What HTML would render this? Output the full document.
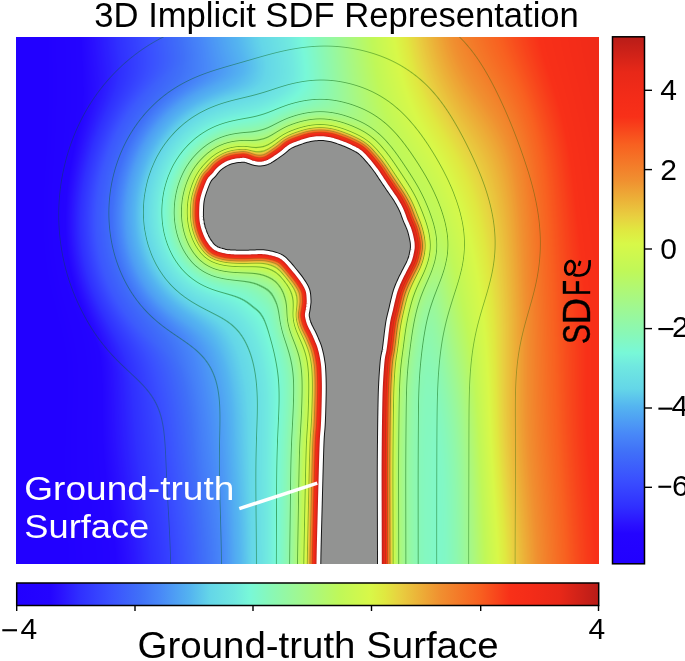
<!DOCTYPE html>
<html><head><meta charset="utf-8">
<style>
html,body{margin:0;padding:0;background:#fff;width:685px;height:661px;overflow:hidden;}
#wrap{position:relative;width:685px;height:661px;}
#hm{position:absolute;left:16px;top:37px;width:583px;height:527px;}
#ov{position:absolute;left:0;top:0;}
text{font-family:"Liberation Sans",sans-serif;}
</style></head><body><div id="wrap">
<svg id="fb" width="685" height="661" viewBox="0 0 685 661" style="position:absolute;left:0;top:0">
<defs><linearGradient id="fbg" x1="16" y1="0" x2="599" y2="0" gradientUnits="userSpaceOnUse">
<stop offset="0" stop-color="#2400f8"/><stop offset="0.18" stop-color="#2c30ff"/><stop offset="0.3" stop-color="#4a90f0"/><stop offset="0.42" stop-color="#78f0d0"/><stop offset="0.5" stop-color="#b0f870"/><stop offset="0.6" stop-color="#a8f890"/><stop offset="0.72" stop-color="#d8f048"/><stop offset="0.85" stop-color="#f08030"/><stop offset="1" stop-color="#f83018"/>
</linearGradient><clipPath id="fbc"><rect x="16" y="37" width="583" height="527"/></clipPath></defs>
<rect x="16" y="37" width="583" height="527" fill="url(#fbg)"/>
<g clip-path="url(#fbc)"><path d="M318.3,579.4 L318.3,575.8 L318.3,571.9 L318.3,567.7 L318.4,563 L318.5,559.7 L318.5,556.3 L318.6,552.8 L318.7,549.1 L318.8,545.3 L318.8,541.4 L318.9,537.4 L319,533.4 L319.2,529.4 L319.3,525.3 L319.4,521.2 L319.5,517.1 L319.6,513 L319.7,509 L319.8,505 L319.9,501.1 L320,497.1 L320.1,492.9 L320.2,488.7 L320.3,484.4 L320.5,480.1 L320.6,475.8 L320.7,471.6 L320.8,467.4 L320.9,463.4 L321,459.6 L321.1,455.9 L321.2,452.4 L321.4,449.2 L321.5,446.3 L321.6,441.7 L321.8,438.9 L322,434.8 L322.3,431.8 L322.6,428.1 L322.8,425 L323,421.4 L323.1,417.7 L323.2,414.1 L323.4,410.5 L323.5,406.8 L323.5,403.2 L323.6,399.5 L323.7,395.7 L323.8,392.1 L323.8,388.5 L323.8,385 L323.7,380.8 L323.6,376.7 L323.5,372.9 L323.3,369.5 L323,365.8 L322.6,362.6 L322.2,360 L321.6,356.6 L320.9,353.3 L320.1,350 L319.2,346.7 L317.9,343.3 L316.5,340 L315.1,336.7 L313.6,333.3 L311.9,330 L310.2,326.7 L308.7,323.3 L307.7,320 L306.9,316.7 L306.9,313.3 L307.6,310 L308.1,306.7 L308.5,303.5 L308.6,300 L308.4,297 L308.1,293.5 L307.3,290 L305.8,286.7 L303.9,283.3 L301.7,280 L299.6,277.1 L297.3,274.1 L295,271.3 L292.5,268.3 L289.9,265.2 L287.5,262.5 L284.8,259.7 L282,257.5 L278.8,255.8 L275,254.5 L271.9,253.7 L268.4,252.9 L265,252.4 L261.7,252.2 L258.3,252.2 L255,252.3 L251.7,252.4 L248.3,252.6 L245,252.7 L241.7,252.7 L238.3,252.6 L235,252.5 L231.7,252.3 L228.3,252 L225,251.5 L221.5,250.7 L218.1,249.6 L215,248 L212.4,245.7 L210.2,243 L208.2,240 L206.4,236.8 L205,233.4 L203.7,230 L202.7,226.7 L201.9,223.3 L201.4,220 L201.1,216.7 L201,213.3 L201.1,210 L201.2,206.7 L201.4,203.3 L201.9,200 L202.7,196.7 L203.7,193.3 L204.8,190 L206,186.7 L207.4,183.3 L209,180 L210.8,176.9 L212.9,173.7 L214.9,171 L217.2,168.8 L220,167.7 L222.9,166.2 L226.5,164.4 L230,163 L233.5,162.1 L237,161.5 L240,161.1 L243.3,160.8 L246.5,161.1 L250,161.9 L253.4,162.7 L257,163.4 L260.4,163.6 L263.9,163.2 L267.4,162.1 L270.1,160.7 L272.9,159 L275.7,157.1 L278.5,155.2 L281.3,153.2 L284.1,151 L286.9,148.5 L290,146.3 L293.1,144.8 L296.6,143.4 L300,142.2 L303.3,141 L306.7,140 L310,139.2 L313.3,138.6 L316.7,138.2 L320,138.1 L323.3,138.2 L326.7,138.5 L330,139.1 L333.3,139.9 L336.7,141 L340,142.2 L343.3,143.4 L346.7,144.8 L350,146.3 L353.4,147.9 L356.8,149.7 L360,151.8 L362.8,154.3 L365.4,157 L368,160 L370.3,162.7 L372.7,165.6 L374.9,168.6 L377,171.4 L379,174.3 L380.8,177.1 L382.7,180 L384.6,182.9 L386.6,185.7 L388.5,188.6 L390.5,191.4 L392.5,194.3 L394.5,197.1 L396.3,200 L398.3,203.3 L400.1,206.7 L401.7,210 L403.1,213.3 L404.3,216.7 L405.5,220 L406.9,223.3 L408.4,226.7 L409.7,230 L410.7,233.5 L411.6,237 L412.2,240 L412.7,243.5 L412.8,246.5 L412.5,250 L411.9,253 L411.1,256.5 L410,260 L408.5,263.3 L406.8,266.7 L405.1,270 L403.4,273.3 L401.7,276.7 L400.1,280 L398.6,283.3 L397.2,286.7 L396,290 L395,293.3 L394.1,296.7 L393.3,300 L392.5,303.3 L391.8,306.7 L391,310 L390.2,313.3 L389.3,316.7 L388.6,320 L388,323.3 L387.5,326.7 L387.1,330 L386.7,333.3 L386.3,336.7 L385.9,340 L385.5,343.4 L385.1,346.8 L384.6,350 L384,353.2 L383.3,356.2 L382.8,359.5 L382.5,362.7 L382.2,366.2 L381.9,370 L381.7,373.5 L381.4,377.3 L381.2,381.2 L381,385 L380.8,388.4 L380.7,391.6 L380.6,395.2 L380.5,400 L380.4,403 L380.4,406.2 L380.3,409.7 L380.2,413.4 L380.2,417.4 L380.1,421.4 L380.1,425.7 L380,430 L380,433.4 L379.9,436.8 L379.9,440.4 L379.9,444.1 L379.8,447.8 L379.8,451.6 L379.8,455.6 L379.7,459.6 L379.7,463.7 L379.7,467.9 L379.7,471.7 L379.7,475.4 L379.7,479.1 L379.7,482.9 L379.7,486.8 L379.7,490.8 L379.7,494.8 L379.7,498.8 L379.7,502.7 L379.8,506.7 L379.8,510.6 L379.8,514.4 L379.8,518.2 L379.8,522 L379.8,526.1 L379.8,530.1 L379.8,534.1 L379.8,538 L379.9,541.9 L379.9,545.7 L379.9,549.5 L379.9,553.2 L379.9,556.9 L379.9,560.5 L379.9,564 L379.9,568.3 L379.9,572.3 L379.9,576.1 L379.9,579.8 L379.9,579.8 Z" fill="#929392" stroke="#f03018" stroke-width="14"/><path d="M318.3,579.4 L318.3,575.8 L318.3,571.9 L318.3,567.7 L318.4,563 L318.5,559.7 L318.5,556.3 L318.6,552.8 L318.7,549.1 L318.8,545.3 L318.8,541.4 L318.9,537.4 L319,533.4 L319.2,529.4 L319.3,525.3 L319.4,521.2 L319.5,517.1 L319.6,513 L319.7,509 L319.8,505 L319.9,501.1 L320,497.1 L320.1,492.9 L320.2,488.7 L320.3,484.4 L320.5,480.1 L320.6,475.8 L320.7,471.6 L320.8,467.4 L320.9,463.4 L321,459.6 L321.1,455.9 L321.2,452.4 L321.4,449.2 L321.5,446.3 L321.6,441.7 L321.8,438.9 L322,434.8 L322.3,431.8 L322.6,428.1 L322.8,425 L323,421.4 L323.1,417.7 L323.2,414.1 L323.4,410.5 L323.5,406.8 L323.5,403.2 L323.6,399.5 L323.7,395.7 L323.8,392.1 L323.8,388.5 L323.8,385 L323.7,380.8 L323.6,376.7 L323.5,372.9 L323.3,369.5 L323,365.8 L322.6,362.6 L322.2,360 L321.6,356.6 L320.9,353.3 L320.1,350 L319.2,346.7 L317.9,343.3 L316.5,340 L315.1,336.7 L313.6,333.3 L311.9,330 L310.2,326.7 L308.7,323.3 L307.7,320 L306.9,316.7 L306.9,313.3 L307.6,310 L308.1,306.7 L308.5,303.5 L308.6,300 L308.4,297 L308.1,293.5 L307.3,290 L305.8,286.7 L303.9,283.3 L301.7,280 L299.6,277.1 L297.3,274.1 L295,271.3 L292.5,268.3 L289.9,265.2 L287.5,262.5 L284.8,259.7 L282,257.5 L278.8,255.8 L275,254.5 L271.9,253.7 L268.4,252.9 L265,252.4 L261.7,252.2 L258.3,252.2 L255,252.3 L251.7,252.4 L248.3,252.6 L245,252.7 L241.7,252.7 L238.3,252.6 L235,252.5 L231.7,252.3 L228.3,252 L225,251.5 L221.5,250.7 L218.1,249.6 L215,248 L212.4,245.7 L210.2,243 L208.2,240 L206.4,236.8 L205,233.4 L203.7,230 L202.7,226.7 L201.9,223.3 L201.4,220 L201.1,216.7 L201,213.3 L201.1,210 L201.2,206.7 L201.4,203.3 L201.9,200 L202.7,196.7 L203.7,193.3 L204.8,190 L206,186.7 L207.4,183.3 L209,180 L210.8,176.9 L212.9,173.7 L214.9,171 L217.2,168.8 L220,167.7 L222.9,166.2 L226.5,164.4 L230,163 L233.5,162.1 L237,161.5 L240,161.1 L243.3,160.8 L246.5,161.1 L250,161.9 L253.4,162.7 L257,163.4 L260.4,163.6 L263.9,163.2 L267.4,162.1 L270.1,160.7 L272.9,159 L275.7,157.1 L278.5,155.2 L281.3,153.2 L284.1,151 L286.9,148.5 L290,146.3 L293.1,144.8 L296.6,143.4 L300,142.2 L303.3,141 L306.7,140 L310,139.2 L313.3,138.6 L316.7,138.2 L320,138.1 L323.3,138.2 L326.7,138.5 L330,139.1 L333.3,139.9 L336.7,141 L340,142.2 L343.3,143.4 L346.7,144.8 L350,146.3 L353.4,147.9 L356.8,149.7 L360,151.8 L362.8,154.3 L365.4,157 L368,160 L370.3,162.7 L372.7,165.6 L374.9,168.6 L377,171.4 L379,174.3 L380.8,177.1 L382.7,180 L384.6,182.9 L386.6,185.7 L388.5,188.6 L390.5,191.4 L392.5,194.3 L394.5,197.1 L396.3,200 L398.3,203.3 L400.1,206.7 L401.7,210 L403.1,213.3 L404.3,216.7 L405.5,220 L406.9,223.3 L408.4,226.7 L409.7,230 L410.7,233.5 L411.6,237 L412.2,240 L412.7,243.5 L412.8,246.5 L412.5,250 L411.9,253 L411.1,256.5 L410,260 L408.5,263.3 L406.8,266.7 L405.1,270 L403.4,273.3 L401.7,276.7 L400.1,280 L398.6,283.3 L397.2,286.7 L396,290 L395,293.3 L394.1,296.7 L393.3,300 L392.5,303.3 L391.8,306.7 L391,310 L390.2,313.3 L389.3,316.7 L388.6,320 L388,323.3 L387.5,326.7 L387.1,330 L386.7,333.3 L386.3,336.7 L385.9,340 L385.5,343.4 L385.1,346.8 L384.6,350 L384,353.2 L383.3,356.2 L382.8,359.5 L382.5,362.7 L382.2,366.2 L381.9,370 L381.7,373.5 L381.4,377.3 L381.2,381.2 L381,385 L380.8,388.4 L380.7,391.6 L380.6,395.2 L380.5,400 L380.4,403 L380.4,406.2 L380.3,409.7 L380.2,413.4 L380.2,417.4 L380.1,421.4 L380.1,425.7 L380,430 L380,433.4 L379.9,436.8 L379.9,440.4 L379.9,444.1 L379.8,447.8 L379.8,451.6 L379.8,455.6 L379.7,459.6 L379.7,463.7 L379.7,467.9 L379.7,471.7 L379.7,475.4 L379.7,479.1 L379.7,482.9 L379.7,486.8 L379.7,490.8 L379.7,494.8 L379.7,498.8 L379.7,502.7 L379.8,506.7 L379.8,510.6 L379.8,514.4 L379.8,518.2 L379.8,522 L379.8,526.1 L379.8,530.1 L379.8,534.1 L379.8,538 L379.9,541.9 L379.9,545.7 L379.9,549.5 L379.9,553.2 L379.9,556.9 L379.9,560.5 L379.9,564 L379.9,568.3 L379.9,572.3 L379.9,576.1 L379.9,579.8 L379.9,579.8 Z" fill="#929392" stroke="#fff" stroke-width="3.8"/></g>
</svg>
<canvas id="hm" width="583" height="527"></canvas>
<svg id="ov" width="685" height="661" viewBox="0 0 685 661">
<defs>
<linearGradient id="cmh" x1="0" y1="0" x2="1" y2="0">
<stop offset="0" stop-color="#2200ff"/>
<stop offset="0.057" stop-color="#2404ff"/>
<stop offset="0.074" stop-color="#2a10ff"/>
<stop offset="0.109" stop-color="#3030ff"/>
<stop offset="0.16" stop-color="#3a50ff"/>
<stop offset="0.212" stop-color="#4070f8"/>
<stop offset="0.246" stop-color="#4888f8"/>
<stop offset="0.298" stop-color="#54b4f0"/>
<stop offset="0.332" stop-color="#64d6e8"/>
<stop offset="0.375" stop-color="#70e8e0"/>
<stop offset="0.4" stop-color="#78f8d8"/>
<stop offset="0.435" stop-color="#88f8b8"/>
<stop offset="0.487" stop-color="#a0f890"/>
<stop offset="0.556" stop-color="#c0f858"/>
<stop offset="0.607" stop-color="#d8f848"/>
<stop offset="0.633" stop-color="#e0e840"/>
<stop offset="0.658" stop-color="#e8d040"/>
<stop offset="0.727" stop-color="#f09030"/>
<stop offset="0.796" stop-color="#f86020"/>
<stop offset="0.848" stop-color="#f83018"/>
<stop offset="0.882" stop-color="#f42c18"/>
<stop offset="0.933" stop-color="#e82818"/>
<stop offset="1" stop-color="#b81c18"/>
</linearGradient>
<linearGradient id="cmv" x1="0" y1="1" x2="0" y2="0">
<stop offset="0" stop-color="#2200ff"/>
<stop offset="0.057" stop-color="#2404ff"/>
<stop offset="0.074" stop-color="#2a10ff"/>
<stop offset="0.109" stop-color="#3030ff"/>
<stop offset="0.16" stop-color="#3a50ff"/>
<stop offset="0.212" stop-color="#4070f8"/>
<stop offset="0.246" stop-color="#4888f8"/>
<stop offset="0.298" stop-color="#54b4f0"/>
<stop offset="0.332" stop-color="#64d6e8"/>
<stop offset="0.375" stop-color="#70e8e0"/>
<stop offset="0.4" stop-color="#78f8d8"/>
<stop offset="0.435" stop-color="#88f8b8"/>
<stop offset="0.487" stop-color="#a0f890"/>
<stop offset="0.556" stop-color="#c0f858"/>
<stop offset="0.607" stop-color="#d8f848"/>
<stop offset="0.633" stop-color="#e0e840"/>
<stop offset="0.658" stop-color="#e8d040"/>
<stop offset="0.727" stop-color="#f09030"/>
<stop offset="0.796" stop-color="#f86020"/>
<stop offset="0.848" stop-color="#f83018"/>
<stop offset="0.882" stop-color="#f42c18"/>
<stop offset="0.933" stop-color="#e82818"/>
<stop offset="1" stop-color="#b81c18"/>
</linearGradient>
</defs>
<!-- in-plot label -->
<g fill="#fff" font-size="33.4">
<text x="24.3" y="500.4" textLength="210" lengthAdjust="spacingAndGlyphs">Ground-truth</text>
<text x="24.3" y="538.1" textLength="125" lengthAdjust="spacingAndGlyphs">Surface</text>
</g>
<line x1="239.3" y1="508.6" x2="317.3" y2="483.2" stroke="#fff" stroke-width="3.5"/>
<!-- rotated SDF label -->
<g font-size="37.94" fill="#000" stroke="#000" stroke-width="0.4">
<text transform="translate(590.4,344.06) rotate(-90) scale(0.7875,1)">S</text>
<text transform="translate(590.4,324.18) rotate(-90) scale(0.957,1)">D</text>
<text transform="translate(590.4,295.7) rotate(-90) scale(0.6795,1)">F</text>
</g>
<g fill="none" stroke="#000" stroke-width="2.7" stroke-linecap="butt" transform="translate(0,0.8)">
<ellipse cx="570" cy="266.9" rx="4.7" ry="6.75" transform="rotate(10 570 266.9)"/>
<path d="M573.5,273.6 C577,275.2 582.5,275.3 586,272.5 C589,270 590,266 589.6,259.4"/>
<path d="M580.3,260.2 L578.7,265" stroke-width="2.5"/>
</g>
<!-- title -->
<text x="94.3" y="26.6" font-size="34.5" textLength="484.5" lengthAdjust="spacingAndGlyphs" fill="#000">3D Implicit SDF Representation</text>
<!-- vertical colorbar -->
<rect x="612.5" y="36.8" width="32" height="527" fill="url(#cmv)" stroke="#000" stroke-width="1.5"/>
<g stroke="#000" stroke-width="1.4">
<line x1="645" y1="90.3" x2="652" y2="90.3"/>
<line x1="645" y1="169.6" x2="652" y2="169.6"/>
<line x1="645" y1="249" x2="652" y2="249"/>
<line x1="645" y1="328.6" x2="652" y2="328.6"/>
<line x1="645" y1="408" x2="652" y2="408"/>
<line x1="645" y1="487.3" x2="652" y2="487.3"/>
</g>
<g font-size="30" fill="#000">
<text x="660.2" y="99.9">4</text>
<text x="660.2" y="179.9">2</text>
<text x="660.2" y="258.9">0</text>
<text x="672" y="336.6">2</text>
<text x="671.6" y="415.6">4</text>
<text x="672" y="495.9">6</text>
</g>
<g fill="#000">
<rect x="658.4" y="328" width="15" height="2.1"/>
<rect x="658.4" y="407.6" width="14" height="2.1"/>
<rect x="658.4" y="485.7" width="12.8" height="2.1"/>
<rect x="2.3" y="629.2" width="14.7" height="2.1"/>
</g>
<!-- horizontal colorbar -->
<rect x="16.7" y="583" width="582" height="22.5" fill="url(#cmh)" stroke="#000" stroke-width="1.5"/>
<g stroke="#000" stroke-width="1.4">
<line x1="16.7" y1="605" x2="16.7" y2="611"/>
<line x1="135" y1="605" x2="135" y2="611"/>
<line x1="253" y1="605" x2="253" y2="611"/>
<line x1="371.5" y1="605" x2="371.5" y2="611"/>
<line x1="480.7" y1="605" x2="480.7" y2="611"/>
<line x1="598.5" y1="605" x2="598.5" y2="611"/>
</g>
<g font-size="30" fill="#000">
<text x="20.6" y="638.8">4</text>
<text x="588.4" y="638.5">4</text>
</g>
<text x="137.6" y="657.6" font-size="36.5" textLength="361" lengthAdjust="spacingAndGlyphs" fill="#000">Ground-truth Surface</text>
</svg>
</div>
<script>
(function(){
var W=583,H=527,OX=16,OY=37;
var cv=document.getElementById('hm');var ctx=cv.getContext('2d');
var CM=[[0,34,0,255],[0.057,36,4,255],[0.074,42,16,255],[0.109,48,48,255],[0.16,58,80,255],[0.212,64,112,248],[0.246,72,136,248],[0.298,84,180,240],[0.332,100,214,232],[0.375,112,232,224],[0.4,120,248,216],[0.435,136,248,184],[0.487,160,248,144],[0.556,192,248,88],[0.607,216,248,72],[0.633,224,232,64],[0.658,232,208,64],[0.727,240,144,48],[0.796,248,96,32],[0.848,248,48,24],[0.882,244,44,24],[0.933,232,40,24],[1,184,28,24]];
var LUT=new Uint8Array(1024*3);
for(var i=0;i<1024;i++){var t=i/1023;var k=0;while(k<CM.length-2&&t>CM[k+1][0])k++;var a=CM[k],b=CM[k+1];var f=(t-a[0])/(b[0]-a[0]);if(f<0)f=0;if(f>1)f=1;
for(var c=0;c<3;c++)LUT[i*3+c]=Math.round(a[c+1]+(b[c+1]-a[c+1])*f);}
var P=[[318.4,1000],[318.4,950],[318.4,900],[318.4,850],[318.4,800],[318.4,750],[318.4,700],[318.4,650],[318.4,600],[318.4,563],[319.8,505],[321.5,445],[322.8,425],[323.5,405],[323.8,385],[323.2,368],[322.2,360],[321.3,355],[320.1,350],[318.6,345],[316.5,340],[314.4,335],[311.9,330],[309.4,325],[307.7,320],[306.8,315],[307.6,310],[308.3,305],[308.6,300],[307.3,290],[301.7,280],[293.9,270],[287.5,262.5],[282,257.5],[275,254.5],[265,252.4],[255,252.3],[245,252.7],[235,252.5],[225,251.5],[215,248],[208.2,240],[203.7,230],[201.4,220],[201.1,210],[201.9,200],[204.8,190],[209,180],[213.5,175],[218,169.5],[222.5,165.8],[228.4,162.5],[234.2,160.8],[240,160],[245,159.9],[253.4,162.7],[260.4,163.6],[267.4,162.1],[274.4,158],[282.6,152.2],[290,146.3],[300,142.2],[310,139.2],[320,138.1],[330,139.1],[340,142.2],[350,146.3],[360,151.8],[368,160],[376,170],[382.7,180],[389.5,190],[396.3,200],[401.7,210],[405.5,220],[409.7,230],[412.2,240],[412.8,245],[412.5,250],[410,260],[405.1,270],[400.1,280],[396,290],[393.3,300],[391,310],[388.6,320],[387.1,330],[385.9,340],[384.6,350],[383,358],[381.9,370],[381,385],[380.5,400],[380,430],[379.7,470],[379.8,520],[379.9,564],[379.9,600],[379.9,650],[379.9,700],[379.9,750],[379.9,800],[379.9,850],[379.9,900],[379.9,950],[379.9,1000]];
var S=[];
for(var i=0;i<P.length-1;i++){var p0=P[Math.max(0,i-1)],p1=P[i],p2=P[i+1],p3=P[Math.min(P.length-1,i+2)];
 var n=Math.max(2,Math.ceil(Math.hypot(p2[0]-p1[0],p2[1]-p1[1])/2));
 for(var j=0;j<n;j++){var u=j/n,u2=u*u,u3=u2*u;
  var x=0.5*((2*p1[0])+(-p0[0]+p2[0])*u+(2*p0[0]-5*p1[0]+4*p2[0]-p3[0])*u2+(-p0[0]+3*p1[0]-3*p2[0]+p3[0])*u3);
  var y=0.5*((2*p1[1])+(-p0[1]+p2[1])*u+(2*p0[1]-5*p1[1]+4*p2[1]-p3[1])*u2+(-p0[1]+3*p1[1]-3*p2[1]+p3[1])*u3);
  S.push([x,y]);}}
S.push(P[P.length-1]);
var NS=S.length;
var sx=new Float64Array(NS),sy=new Float64Array(NS);
for(var i=0;i<NS;i++){sx[i]=S[i][0];sy[i]=S[i][1];}
function dseg(x,y,i){var ax=sx[i],ay=sy[i],bx=sx[i+1]-ax,by=sy[i+1]-ay;var px=x-ax,py=y-ay;var L=bx*bx+by*by;var t=(px*bx+py*by)/L;if(t<0)t=0;else if(t>1)t=1;var dx=px-t*bx,dy=py-t*by;return dx*dx+dy*dy;}
function dist(x,y){var m=1e18;for(var i=0;i<NS-1;i++){var d=dseg(x,y,i);if(d<m)m=d;}return Math.sqrt(m);}
// coarse grid with margin
var ST=4,MG=20,CW=Math.ceil(W/ST)+2+2*MG,CH=Math.ceil(H/ST)+2+2*MG;
var cd=new Float64Array(CW*CH),cs=new Float64Array(CW*CH),sd=new Float64Array(CW*CH);
function inside(x,y){var c=false;for(var i=0,j=NS-1;i<NS;j=i++){if(((sy[i]>y)!=(sy[j]>y))&&(x<(sx[j]-sx[i])*(y-sy[i])/(sy[j]-sy[i])+sx[i]))c=!c;}return c;}
for(var j=0;j<CH;j++)for(var i=0;i<CW;i++){var x=OX+(i-MG)*ST,y=OY+(j-MG)*ST;var d=dist(x,y);cd[j*CW+i]=d;sd[j*CW+i]=(d<70&&inside(x,y))?-d:d;}
// separable variable-sigma blur of signed distance
var KB=0.5,SGM=30;
var tmp=new Float64Array(CW*CH);
for(var j=0;j<CH;j++)for(var i=0;i<CW;i++){var o=j*CW+i;var d=sd[o];var sg=Math.min(KB*Math.max(d,0),SGM)/ST;if(sg<0.6){tmp[o]=d;continue;}var r=Math.ceil(2.2*sg);var s=0,ws=0;for(var k=-r;k<=r;k++){var ii=i+k;if(ii<0)ii=0;if(ii>=CW)ii=CW-1;var w=Math.exp(-k*k/(2*sg*sg));s+=w*sd[j*CW+ii];ws+=w;}tmp[o]=s/ws;}
for(var j=0;j<CH;j++)for(var i=0;i<CW;i++){var o=j*CW+i;var d=sd[o];var sg=Math.min(KB*Math.max(d,0),SGM)/ST;if(sg<0.6){cs[o]=tmp[o];continue;}var r=Math.ceil(2.2*sg);var s=0,ws=0;for(var k=-r;k<=r;k++){var jj=j+k;if(jj<0)jj=0;if(jj>=CH)jj=CH-1;var w=Math.exp(-k*k/(2*sg*sg));s+=w*tmp[jj*CW+i];ws+=w;}cs[o]=s/ws;}
// buckets for exact near-surface distance
var BS=16,BW=Math.ceil(W/BS)+1,BH=Math.ceil(H/BS)+1;var buckets=[];
for(var b=0;b<BW*BH;b++)buckets.push([]);
var RAD=30;
for(var i=0;i<NS-1;i++){var x0=Math.min(sx[i],sx[i+1])-RAD-OX,x1=Math.max(sx[i],sx[i+1])+RAD-OX,y0=Math.min(sy[i],sy[i+1])-RAD-OY,y1=Math.max(sy[i],sy[i+1])+RAD-OY;
 for(var by=Math.max(0,Math.floor(y0/BS));by<=Math.min(BH-1,Math.floor(y1/BS));by++)for(var bx=Math.max(0,Math.floor(x0/BS));bx<=Math.min(BW-1,Math.floor(x1/BS));bx++)buckets[by*BW+bx].push(i);}
function bil(A,fx,fy){var i=Math.floor(fx),j=Math.floor(fy);var ax=fx-i,ay=fy-j;var o=j*CW+i;return (A[o]*(1-ax)+A[o+1]*ax)*(1-ay)+(A[o+CW]*(1-ax)+A[o+CW+1]*ax)*ay;}
var TU=[[-2,1.0],[0.4055,1.000],[0.9163,0.960],[1.3083,0.920],[1.5686,0.870],[1.7750,0.820],[1.9459,0.770],[2.2192,0.680],[2.5096,0.600],[2.8332,0.550],[3.1570,0.490],[3.4965,0.430],[3.9120,0.370],[4.1744,0.320],[4.3820,0.270],[4.5433,0.210],[4.7005,0.170],[4.8675,0.090],[5.0106,0.020],[5.2983,-0.050],[6.4998,-0.400]];
function T(u){if(u<=TU[0][0])return TU[0][1];for(var i=0;i<TU.length-1;i++){if(u<=TU[i+1][0]){var a=TU[i],b=TU[i+1];return a[1]+(b[1]-a[1])*(u-a[0])/(b[0]-a[0]);}}return TU[TU.length-1][1];}
function cr(p0,p1,p2,p3,u){return 0.5*(2*p1+(-p0+p2)*u+(2*p0-5*p1+4*p2-p3)*u*u+(-p0+3*p1-3*p2+p3)*u*u*u);}
function mkgrid(V){var ny=V.length,nx=V[0].length,dx=W/(nx-1),dy=H/(ny-1);
 function gv(j,i){i=Math.max(0,Math.min(nx-1,i));j=Math.max(0,Math.min(ny-1,j));return V[j][i];}
 return function(x,y){var fx=(x-OX)/dx,fy=(y-OY)/dy;var i=Math.min(nx-2,Math.max(0,Math.floor(fx))),j=Math.min(ny-2,Math.max(0,Math.floor(fy)));var u=Math.max(0,Math.min(1,fx-i)),v=Math.max(0,Math.min(1,fy-j));
 var r=[];for(var k=-1;k<=2;k++){r.push(cr(gv(j+k,i-1),gv(j+k,i),gv(j+k,i+1),gv(j+k,i+2),u));}
 return cr(r[0],r[1],r[2],r[3],v);};}
var g=mkgrid([
[0,0,0,0,0,0,0,0.03,0.1,0.18,0.22,0.24,0.25],
[-0.04,-0.04,-0.04,-0.03,0,0,0,0.05,0.18,0.23,0.24,0.25,0.25],
[0.02,0.02,0.02,0.02,0.02,0.02,0.03,0.2,0.27,0.28,0.28,0.28,0.28],
[0.08,0.08,0.08,0.08,0.08,0.08,0.08,0.25,0.31,0.31,0.31,0.31,0.31],
[0.05,0.05,0.05,0.05,0.05,0.05,0.05,0.25,0.31,0.31,0.31,0.31,0.31]]);
var R=mkgrid([
[-0.05,0.03,0.1,0.18,0.26,0.33,0.41,0.52,0.63,0.73,0.8,0.86,0.9],
[-0.1,0.0,0.05,0.1,0.16,0.25,0.36,0.46,0.54,0.62,0.7,0.81,0.88],
[-0.12,-0.04,0.06,0.17,0.26,0.33,0.34,0.3,0.36,0.53,0.66,0.79,0.86],
[-0.05,0.0,0.07,0.15,0.24,0.31,0.32,0.3,0.31,0.45,0.65,0.78,0.86],
[-0.05,0.0,0.05,0.12,0.2,0.27,0.29,0.3,0.3,0.43,0.62,0.76,0.85]]);
var h=mkgrid([
[0,0,0,0,0,0,0,0,0,0,0,0,0],
[0,0,0,0,0,0,0,0,0,0,0,0,0],
[0,0,0,0,0,0,0,-0.02,-0.03,-0.03,-0.02,0,0],
[0,0,0,0,0,0,0,-0.05,-0.06,-0.06,-0.04,0,0],
[0,0,0,0,0,0,0,-0.05,-0.06,-0.06,-0.04,0,0]]);
var gc=mkgrid([
[0,0,0,0,0,0,0,0.02,0.05,0.07,0.05,0.02,0],
[0,0,0,0,0,0,0,-0.02,-0.05,-0.06,-0.07,-0.08,-0.08],
[0.02,0.02,0.02,0.02,0.02,0.02,0.03,-0.06,-0.1,-0.1,-0.1,-0.1,-0.1],
[0.08,0.08,0.08,0.08,0.08,0.08,0.08,-0.04,-0.06,-0.06,-0.06,-0.06,-0.06],
[0.03,0.03,0.03,0.03,0.03,0.03,0.04,-0.04,-0.06,-0.06,-0.06,-0.06,-0.06]]);
var KS=25;
var Cg=new Float64Array(CW*CH),CR=new Float64Array(CW*CH),Ch=new Float64Array(CW*CH),Cgc=new Float64Array(CW*CH);
for(var j=0;j<CH;j++)for(var i=0;i<CW;i++){var x=OX+(i-MG)*ST,y=OY+(j-MG)*ST;var o=j*CW+i;Cg[o]=g(x,y);CR[o]=R(x,y);Ch[o]=h(x,y);Cgc[o]=gc(x,y);}
function smax(a,b){var m=Math.max(a,b);return m+Math.log(Math.exp(KS*(a-m))+Math.exp(KS*(b-m)))/KS;}
var LEV=[5.9,8.2,10.7,14,20,27.6,40.7,60.4,94.3,143.6].map(Math.log);
var LA=[0.18,0.25,0.38,0.45,0.5,0.5,0.5,0.45,0.4,0.32];
var img=ctx.createImageData(W,H);var D=img.data;
for(var py=0;py<H;py++){for(var px=0;px<W;px++){
 var x=OX+px+0.5,y=OY+py+0.5;var o=(py*W+px)*4;
 var fx=(px+0.5)/ST+MG,fy=(py+0.5)/ST+MG;
 var dc=bil(cd,fx,fy);var ds=bil(cs,fx,fy);var d=ds;
 if(dc<24){var bl=buckets[Math.floor((py)/BS)*BW+Math.floor((px)/BS)];var m=1e18;for(var q=0;q<bl.length;q++){var dd=dseg(x,y,bl[q]);if(dd<m)m=dd;}var de=Math.sqrt(m);
   var w=(de-6)/10;if(w<0)w=0;if(w>1)w=1;w=w*w*(3-2*w);d=de*(1-w)+ds*w;}
 var gg=bil(Cg,fx,fy);if(d>40){var sm=Math.min(1,(d-40)/70);sm=sm*sm*(3-2*sm);gg+=0.07*sm*Math.max(0,Math.min(1,(x-360)/40));}var u=Math.log(Math.max(d,0.3))-gg;
 var hb=(u>1.5&&u<3.6)?Math.sin((u-1.5)/2.1*Math.PI):0;var t=smax(T(u)+hb*bil(Ch,fx,fy),bil(CR,fx,fy));if(t<0)t=0;if(t>1)t=1;
 var li=Math.round(t*1023)*3;var r=LUT[li],gr=LUT[li+1],b=LUT[li+2];
 var al=0;var gcv=bil(Cgc,fx,fy);var wb=1;var dcn=d;if(dc>=16){dcn=dc*(1-wb)+ds*wb;}else if(dc>8){var w2=(dc-8)/8;dcn=d*(1-w2)+(dc*(1-wb)+ds*wb)*w2;}for(var k=0;k<LEV.length;k++){var e=Math.abs(dcn-Math.exp(LEV[k]+gcv));if(e<0.9){var a2=(1-e/0.9)*LA[k];if(a2>al)al=a2;}}
 D[o]=r*(1-al);D[o+1]=gr*(1-al)+90*al;D[o+2]=b*(1-al);D[o+3]=255;}}
ctx.putImageData(img,0,0);
ctx.save();ctx.translate(-OX,-OY);
function path(){ctx.beginPath();ctx.moveTo(S[0][0],S[0][1]);for(var i=1;i<NS;i++)ctx.lineTo(S[i][0],S[i][1]);ctx.closePath();}
path();ctx.fillStyle='#929392';ctx.fill();
ctx.save();ctx.clip();ctx.strokeStyle='rgba(0,0,0,0.85)';ctx.lineWidth=5.8;ctx.stroke();ctx.restore();
path();ctx.strokeStyle='#fff';ctx.lineWidth=3.8;ctx.lineJoin='round';ctx.stroke();
ctx.restore();
})();

</script>
</body></html>
